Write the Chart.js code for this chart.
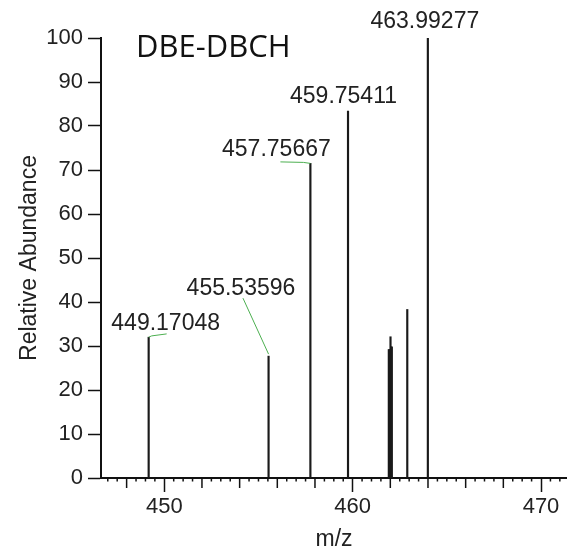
<!DOCTYPE html>
<html>
<head>
<meta charset="utf-8">
<title>DBE-DBCH</title>
<script src="https://cdn.jsdelivr.net/npm/chart.js@4.4.1/dist/chart.umd.min.js"></script>
<style>
    html, body { margin: 0; padding: 0; background: #fff; }
    #wrap { width: 567px; height: 553px; position: relative; }
</style>
</head>
<body>
<div id="wrap"><canvas id="spectrumChart"></canvas></div>
<script>
// centroid peaks: m/z and relative abundance (%)
const mzValues = [449.17048, 455.53596, 457.75667, 459.75411, 461.92, 461.96, 462.01, 462.04, 462.08, 462.90, 463.99277];
const abundances = [32.0, 27.7, 71.5, 83.4, 29.2, 29.2, 32.1, 29.8, 29.8, 38.3, 100];

// peaks that carry an m/z annotation
const labelledPeaks = ['463.99277', '459.75411', '457.75667', '455.53596', '449.17048'];

// axis ticks
const yTickValues = [0, 10, 20, 30, 40, 50, 60, 70, 80, 90, 100];
const xTickValues = [450, 460, 470];

const chartTitle = 'DBE-DBCH';

const LABEL_FONT = '23px Arial, "Liberation Sans", sans-serif';
const INK = '#222';

// label offsets (px) from the top of each annotated stick, plus optional leader path
const labelLayout = {
    '463.99277': { dx: -3, dy: -16 },
    '459.75411': { dx: -4.5, dy: -14.5 },
    '457.75667': { dx: -34, dy: -14, leader: [[-30, -1.5], [-7, -1], [0, 0]] },
    '455.53596': { dx: -27.6, dy: -67.7, leader: [[-25.6, -58], [0, -2]] },
    '449.17048': { dx: 17, dy: -13.7, leader: [[0, 0], [3, -1.3], [18, -3.3]] }
};

const spectrumDecor = {
    id: 'spectrumDecor',
    afterDraw(chart) {
        const ctx = chart.ctx;
        const xs = chart.scales.x;
        const ys = chart.scales.y;
        const base = ys.getPixelForValue(0);

        // x minor ticks every 0.5, medium every 2 (majors come from the scale)
        ctx.save();
        ctx.strokeStyle = '#111';
        ctx.lineWidth = 1.5;
        const start = Math.ceil(xs.min * 2) / 2;
        for (let v = start; v <= xs.max + 1e-9; v += 0.5) {
            const r = Math.round(v * 2) / 2;
            if (Math.abs(r % 10) < 1e-6) continue;
            const len = Math.abs(r % 2) < 1e-6 ? 10 : 3.5;
            const px = xs.getPixelForValue(r);
            ctx.beginPath();
            ctx.moveTo(px, base);
            ctx.lineTo(px, base + len);
            ctx.stroke();
        }
        ctx.restore();

        // peak annotations
        ctx.save();
        ctx.font = LABEL_FONT;
        ctx.fillStyle = INK;
        ctx.textAlign = 'center';
        ctx.textBaseline = 'middle';
        labelledPeaks.forEach(txt => {
            const i = mzValues.findIndex(m => m.toFixed(5) === txt);
            const lay = labelLayout[txt];
            const px = xs.getPixelForValue(mzValues[i]);
            const py = ys.getPixelForValue(abundances[i]);
            ctx.fillText(txt, px + lay.dx, py + lay.dy);
            if (lay.leader) {
                ctx.strokeStyle = '#4caf50';
                ctx.lineWidth = 1;
                ctx.beginPath();
                lay.leader.forEach(([lx, ly], k) => {
                    if (k === 0) ctx.moveTo(px + lx, py + ly);
                    else ctx.lineTo(px + lx, py + ly);
                });
                ctx.stroke();
            }
        });
        ctx.restore();

        // compound name inside the plot
        ctx.save();
        ctx.font = '31px "Open Sans", sans-serif';
        ctx.fillStyle = '#111';
        ctx.textAlign = 'left';
        ctx.textBaseline = 'alphabetic';
        ctx.fillText(chartTitle, 136, 57);
        ctx.restore();
    }
};

function initializeChart() {
    const ctx = document.getElementById('spectrumChart');
    new Chart(ctx, {
        type: 'bar',
        data: {
            datasets: [{
                data: mzValues.map((m, i) => ({ x: m, y: abundances[i] })),
                backgroundColor: '#1a1a1a',
                borderWidth: 0,
                barThickness: 1.5
            }]
        },
        options: {
            responsive: true,
            maintainAspectRatio: false,
            animation: false,
            layout: { padding: { top: 38, right: 0, bottom: 0, left: 0 } },
            plugins: {
                legend: { display: false },
                tooltip: { enabled: false }
            },
            scales: {
                x: {
                    type: 'linear',
                    min: 446.64,
                    max: 471.38,
                    offset: false,
                    afterBuildTicks: axis => {
                        axis.ticks = xTickValues.map(v => ({ value: v }));
                    },
                    afterFit: axis => { axis.height = 75; },
                    ticks: {
                        font: { family: 'Arial, "Liberation Sans", sans-serif', size: 22 },
                        color: INK,
                        padding: 2,
                        maxRotation: 0,
                        autoSkip: false
                    },
                    grid: {
                        offset: false,
                        drawOnChartArea: false,
                        tickLength: 14,
                        tickWidth: 1.5,
                        tickColor: '#111'
                    },
                    border: { color: '#111', width: 2 },
                    title: {
                        display: true,
                        text: 'm/z',
                        font: { family: 'Arial, "Liberation Sans", sans-serif', size: 23 },
                        color: INK,
                        padding: { top: 0, bottom: 0 }
                    }
                },
                y: {
                    min: 0,
                    max: 100,
                    afterBuildTicks: axis => {
                        axis.ticks = yTickValues.map(v => ({ value: v }));
                    },
                    afterFit: axis => { axis.width = 101; },
                    ticks: {
                        font: { family: 'Arial, "Liberation Sans", sans-serif', size: 22 },
                        color: INK,
                        padding: 5
                    },
                    grid: {
                        drawOnChartArea: false,
                        tickLength: 13,
                        tickWidth: 1.5,
                        tickColor: '#111'
                    },
                    border: { color: '#111', width: 2 },
                    title: {
                        display: true,
                        text: 'Relative Abundance',
                        font: { family: 'Arial, "Liberation Sans", sans-serif', size: 23 },
                        color: INK,
                        padding: { top: 16, bottom: 0 }
                    }
                }
            }
        },
        plugins: [spectrumDecor]
    });
}

if (document.readyState === 'loading') {
    document.addEventListener('DOMContentLoaded', initializeChart);
} else {
    initializeChart();
}
</script>
</body>
</html>
